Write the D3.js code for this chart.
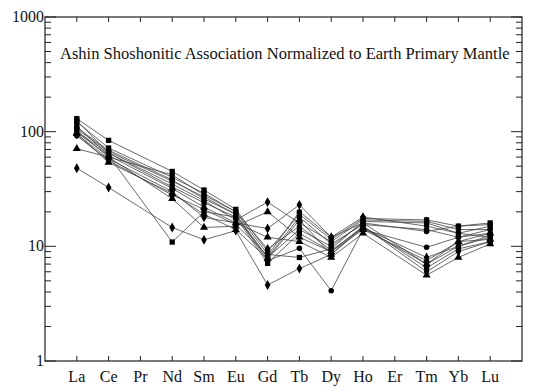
<!DOCTYPE html>
<html>
<head>
<meta charset="utf-8">
<script src="https://cdn.jsdelivr.net/npm/d3@7"></script>
<style>
  body { margin: 0; background: #fff; }
  .frame { fill: none; stroke: #222; stroke-width: 1.2px; }
  .tick { stroke: #222; stroke-width: 1px; }
  .series { fill: none; stroke: #444; stroke-width: 0.8px; }
  .mark { fill: #000; }
  text { fill: #111; }
</style>
</head>
<body>
<script>
// rare earth elements, Pr and Er have no analyses
const elements = ['La', 'Ce', 'Pr', 'Nd', 'Sm', 'Eu', 'Gd', 'Tb', 'Dy', 'Ho', 'Er', 'Tm', 'Yb', 'Lu'];
const yTickValues = [1, 10, 100, 1000];
const title = 'Ashin Shoshonitic Association Normalized to Earth Primary Mantle';

// normalized values per sample (null = not analysed)
const s1  = [130, 84, null, 45, 31, 21, 9.0, 19, 11.5, 17.5, null, 17, 15, 16];
const s2  = [122, 72, null, 40, 29, 20, 8.5, 8.0, 9.5, 16.5, null, 16, 13, 15];
const s3  = [112, 62, null, 10.9, 20, 18, 8.0, 14, 10, 16, null, 7, 10, 12];
const s4  = [48, 32.6, null, 14.6, 11.4, 13.7, 4.6, 6.4, 8.5, 15, null, 6, 9, 11];
const s5  = [71, 60, null, 26, 14.6, 15, 20, 12, 9, 14, null, 7.5, 11, 13];
const s6  = [100, 65, null, 35, 25, 17, 24.3, 16, 11, 17, null, 16.5, 14, 14];
const s7  = [105, 67, null, 37, 27, 19, 7.5, 9.6, 4.1, 14, null, 9.8, 12, 13];
const s8  = [95, 58, null, 30, 17.9, 16, 14.3, 23, 12, 18, null, 15, 13, 12];
const s9  = [98, 62, null, 32, 22, 16, 12, 11, 8, 13, null, 5.6, 8, 10.5];
const s10 = [108, 69, null, 38, 26, 19, 8.0, 18, 10.5, 15.5, null, 14, 12, 14];
const s11 = [125, 65, null, 33, 24, 18, 7.1, 13, 9, 15, null, 6.5, 9.5, 11];
const s12 = [92, 56, null, 28, 21, 15.5, 8.3, 20, 12, 16, null, 13.5, 15, 15.5];
const s13 = [102, 60, null, 42, 28, 20, 9.5, 15, 9.2, 14.5, null, 8, 10, 12.5];
const s14 = [96, 54, null, 29, 19, 14, 7.8, 17, 8.5, 14.5, null, 7, 11, 11.5];

const samples = [
  {values: s1, symbol: d3.symbolSquare},
  {values: s2, symbol: d3.symbolSquare},
  {values: s3, symbol: d3.symbolSquare},
  {values: s4, symbol: d3.symbolDiamond},
  {values: s5, symbol: d3.symbolTriangle},
  {values: s6, symbol: d3.symbolDiamond},
  {values: s7, symbol: d3.symbolCircle},
  {values: s8, symbol: d3.symbolDiamond},
  {values: s9, symbol: d3.symbolTriangle},
  {values: s10, symbol: d3.symbolCircle},
  {values: s11, symbol: d3.symbolSquare},
  {values: s12, symbol: d3.symbolCircle},
  {values: s13, symbol: d3.symbolDiamond},
  {values: s14, symbol: d3.symbolTriangle}
];

const width = 539, height = 391;
const plotLeft = 45, plotRight = 522, plotTop = 17, plotBottom = 361;
const serif = "Liberation Serif, Times New Roman, Times, Tinos, DejaVu Serif, Noto Serif, serif";

const x = d3.scaleLinear().domain([-1, elements.length]).range([plotLeft, plotRight]);
const y = d3.scaleLog().domain([1, 1000]).range([plotBottom, plotTop]);

const svg = d3.select('body').append('svg')
  .attr('width', width)
  .attr('height', height)
  .style('font-family', serif);

svg.append('rect')
  .attr('class', 'frame')
  .attr('x', plotLeft).attr('y', plotTop)
  .attr('width', plotRight - plotLeft).attr('height', plotBottom - plotTop);

// log ticks on left and right, pointing inward
const minorTicks = d3.range(0, 3).flatMap(d => d3.range(2, 10).map(m => m * Math.pow(10, d)));
const ticks = svg.append('g');
minorTicks.forEach(v => {
  ticks.append('line').attr('class', 'tick')
    .attr('x1', plotLeft).attr('x2', plotLeft + 6).attr('y1', y(v)).attr('y2', y(v));
  ticks.append('line').attr('class', 'tick')
    .attr('x1', plotRight).attr('x2', plotRight - 6).attr('y1', y(v)).attr('y2', y(v));
});
yTickValues.forEach(v => {
  ticks.append('line').attr('class', 'tick')
    .attr('x1', plotLeft).attr('x2', plotLeft + 11).attr('y1', y(v)).attr('y2', y(v));
  ticks.append('line').attr('class', 'tick')
    .attr('x1', plotRight).attr('x2', plotRight - 11).attr('y1', y(v)).attr('y2', y(v));
});

// category ticks on top and bottom
elements.forEach((e, i) => {
  ticks.append('line').attr('class', 'tick')
    .attr('x1', x(i)).attr('x2', x(i)).attr('y1', plotTop).attr('y2', plotTop + 5);
  ticks.append('line').attr('class', 'tick')
    .attr('x1', x(i)).attr('x2', x(i)).attr('y1', plotBottom).attr('y2', plotBottom - 5);
});

svg.append('g').selectAll('text')
  .data(yTickValues)
  .join('text')
  .attr('x', plotLeft - 1)
  .attr('y', d => y(d) + 5)
  .attr('text-anchor', 'end')
  .style('font-size', '16px')
  .text(d => d);

svg.append('g').selectAll('text')
  .data(elements)
  .join('text')
  .attr('x', (d, i) => x(i))
  .attr('y', 382)
  .attr('text-anchor', 'middle')
  .style('font-size', '16px')
  .text(d => d);

svg.append('text')
  .attr('x', 60)
  .attr('y', 59)
  .style('font-size', '16.5px')
  .text(title);

const line = d3.line()
  .x(d => x(d.i))
  .y(d => y(d.v));

const plot = svg.append('g');
samples.forEach(s => {
  const pts = s.values.map((v, i) => ({i, v})).filter(d => d.v != null);
  plot.append('path')
    .attr('class', 'series')
    .attr('d', line(pts));
  plot.append('g').selectAll('path')
    .data(pts)
    .join('path')
    .attr('class', 'mark')
    .attr('transform', d => `translate(${x(d.i)},${y(d.v)})`)
    .attr('d', d3.symbol().type(s.symbol).size(s.symbol === d3.symbolCircle ? 24 : 28));
});
</script>
</body>
</html>
